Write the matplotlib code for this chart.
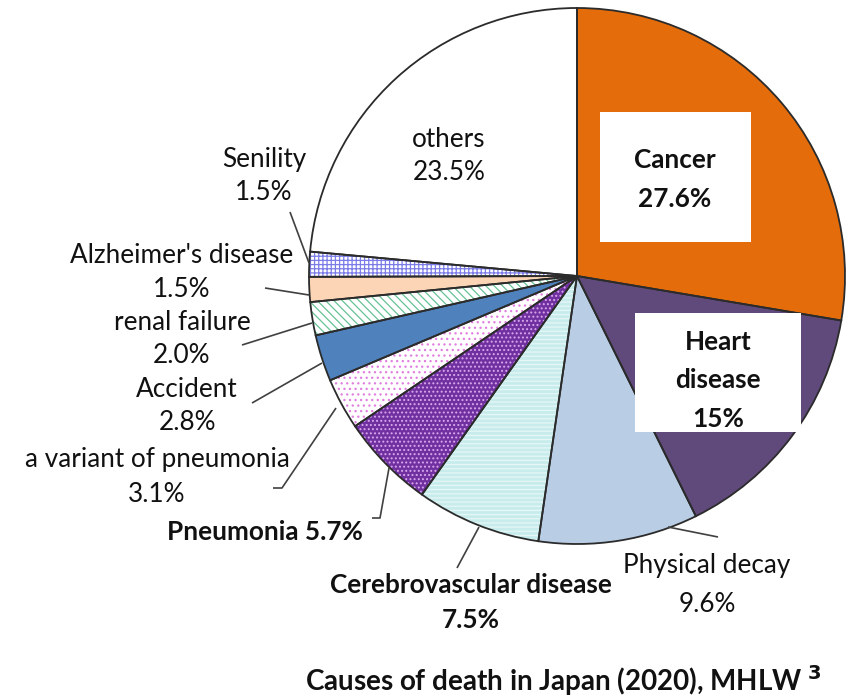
import matplotlib.pyplot as plt

# --- DATA ---
causes = ['Cancer', 'Heart disease', 'Physical decay', 'Cerebrovascular disease',
          'Pneumonia', 'a variant of pneumonia', 'Accident', 'renal failure',
          "Alzheimer's disease", 'Senility', 'others']
shares = [27.6, 15.0, 9.6, 7.5, 5.7, 3.1, 2.8, 2.0, 1.5, 1.5, 23.5]

fills = ['#E46C0A', '#604A7B', '#B9CDE5', '#C8ECEC', '#7030A0', '#FFFFFF',
         '#4F81BD', '#FFFFFF', '#FBD5B5', '#FFFFFF', '#FFFFFF']
hatches = [None, None, None, '----', '....', '...', None, '\\\\\\\\', None, '++++', None]
hatch_cols = [None, None, None, '#E6F7F7', '#D9A8EE', '#E07FE0', None, '#66C296', None, '#7C7CE8', None]

W, H = 861, 697
plt.rcParams['font.family'] = ['Lato', 'DejaVu Sans']
plt.rcParams['hatch.linewidth'] = 0.9

fig = plt.figure(figsize=(W / 100, H / 100), dpi=100)
ax = fig.add_axes([0, 0, 1, 1])
ax.set_aspect('equal')
ax.axis('off')

def Y(y):
    # image row -> data y
    return H - y

cx, cy, r = 577, Y(276), 268
pie_kw = dict(startangle=90, counterclock=False, center=(cx, cy), radius=r, normalize=True)

# base fills
ax.pie(shares, colors=fills, wedgeprops=dict(edgecolor='none', linewidth=0), **pie_kw)

# hatch overlays
over, _ = ax.pie(shares, colors=['none'] * len(shares), wedgeprops=dict(linewidth=0), **pie_kw)
for w, h, hc in zip(over, hatches, hatch_cols):
    if h is None:
        w.set_visible(False)
    else:
        w.set_hatch(h)
        w.set_edgecolor(hc)
        w.set_facecolor('none')

# outlines on top
ax.pie(shares, colors=['none'] * len(shares),
       wedgeprops=dict(edgecolor='#2b2b2b', linewidth=1.3, fill=False), **pie_kw)
ax.set_xlim(0, W)
ax.set_ylim(0, H)

fs = 18.8
def label(x, ys, lines, bold=False, z=3):
    for y, t in zip(ys, lines):
        ax.text(x, Y(y), t, ha='center', va='baseline', fontsize=fs,
                fontweight='bold' if bold else 'normal', color='#111111', zorder=z)

# white boxes
ax.add_patch(plt.Rectangle((600, Y(242)), 151, 130, facecolor='white', edgecolor='none', zorder=3))
ax.add_patch(plt.Rectangle((635, Y(432)), 166, 119, facecolor='white', edgecolor='none', zorder=3))

label(675, [168, 207], ['Cancer', '27.6%'], bold=True, z=4)
label(718, [350, 388, 427], ['Heart', 'disease', '15%'], bold=True, z=4)

label(449, [147, 180], ['others', '23.5%'])
label(264, [167, 200], ['Senility', '1.5%'])
label(182, [263, 297], ["Alzheimer's disease", '1.5%'])
label(182, [330, 363], ['renal failure', '2.0%'])
label(187, [397, 430], ['Accident', '2.8%'])
label(157, [467, 502], ['a variant of pneumonia', '3.1%'])
label(265, [540], ['Pneumonia 5.7%'], bold=True)
label(471, [593, 628], ['Cerebrovascular disease', '7.5%'], bold=True)
label(707, [573, 612], ['Physical decay', '9.6%'])

# leader lines
leaders = [
    [(290, 212), (309, 263)],
    [(265, 288), (309, 295)],
    [(242, 345), (312, 323)],
    [(252, 403), (322, 363)],
    [(273, 488), (282, 488), (336, 408)],
    [(372, 518), (380, 518), (389, 468)],
    [(457, 568), (479, 527)],
    [(668, 527), (718, 537)],
]
for pts in leaders:
    ax.plot([p[0] for p in pts], [Y(p[1]) for p in pts], color='#404040', lw=1.2,
            solid_capstyle='butt')

ax.text(305, Y(691), r'Causes of death in Japan (2020), MHLW $^{\mathbf{3}}$', ha='left',
        va='baseline', fontsize=20, fontweight='bold', color='#111111')

fig.savefig('out.png', dpi=100)
